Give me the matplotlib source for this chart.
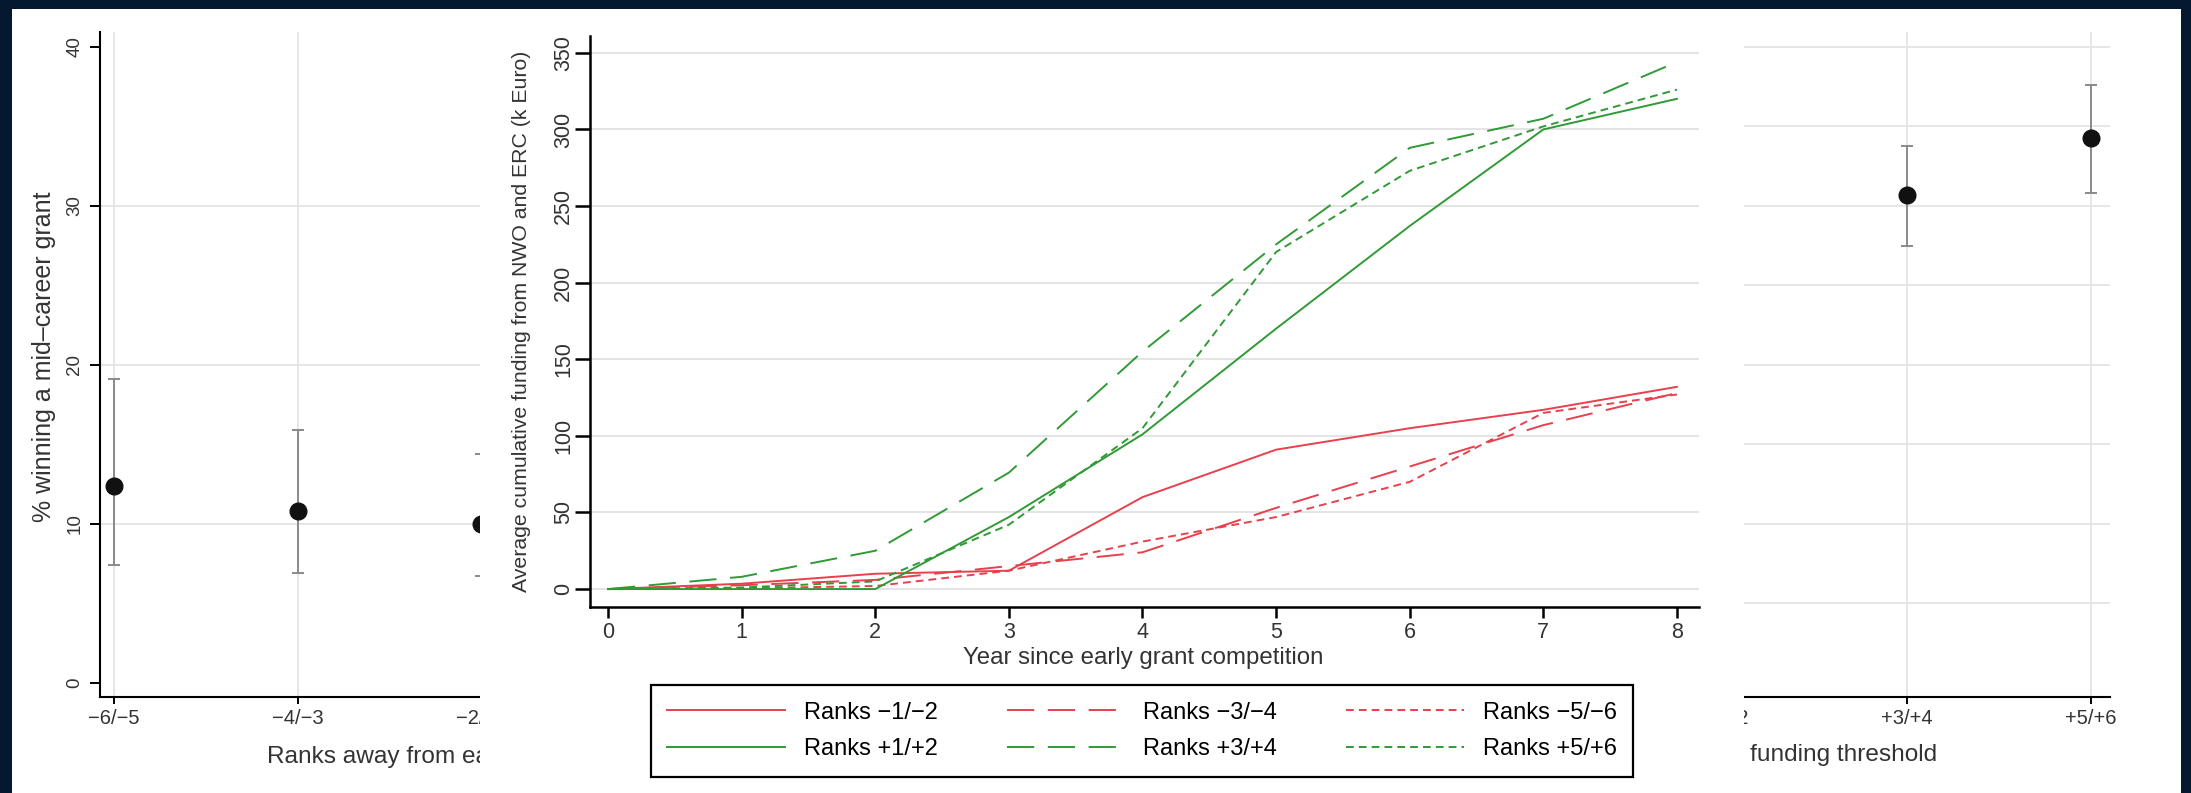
import matplotlib
matplotlib.use('Agg')
import matplotlib.pyplot as plt
from matplotlib.patches import Rectangle
from matplotlib.transforms import Bbox

plt.rcParams['font.family'] = ['Liberation Sans', 'DejaVu Sans']

# --- scatter panel (mid-career grant), left and right parts ---
left_cats = ['\u22126/\u22125', '\u22124/\u22123', '\u22122/\u22121']
left_pct = [12.4, 10.8, 10.0]
left_lo = [7.4, 6.9, 6.7]
left_hi = [19.1, 15.9, 14.4]
left_grid = [10, 20, 30]

right_cats = ['+1/+2', '+3/+4', '+5/+6']
right_shown = ['+3/+4', '+5/+6']
right_pct = [30.7, 34.3]
right_lo = [27.5, 30.8]
right_hi = [33.8, 37.6]
right_grid = [5, 10, 15, 20, 25, 30, 35, 40]

# --- inset: cumulative funding by year ---
years = [0, 1, 2, 3, 4, 5, 6, 7, 8]
fund_m12 = [0, 3.5, 10, 12, 60, 91, 105, 117, 132]
fund_m34 = [0, 2.5, 6, 15, 24, 53, 80, 107, 128]
fund_m56 = [0, 0.5, 2, 12, 31, 47, 70, 115, 127]
fund_p12 = [0, 0, 0, 47, 101, 170, 237, 300, 320]
fund_p34 = [0, 8, 25, 76, 155, 225, 288, 307, 344]
fund_p56 = [0, 1, 5, 42, 105, 220, 273, 302, 326]

W, H = 2191, 793
navy = '#04182f'
gridc = '#e4e4e4'
red = '#e8404c'
green = '#2f9a36'
txt = '#333333'


def box(l, t, r, b):
    return [l / W, 1 - b / H, (r - l) / W, (b - t) / H]


fig = plt.figure(figsize=(W / 100, H / 100), dpi=100, facecolor=navy)
fig.add_artist(Rectangle((12 / W, 0), (2181 - 12) / W, 1 - 9 / H, transform=fig.transFigure,
                         facecolor='white', edgecolor='none', zorder=0.5))


def style_scatter(ax):
    ax.set_facecolor('none')
    ax.set_ylim(-0.88, 40.94)
    for s in ['top', 'right']:
        ax.spines[s].set_visible(False)
    ax.spines['left'].set_linewidth(1.5)
    ax.spines['bottom'].set_linewidth(1.5)
    ax.tick_params(axis='x', length=5, width=1.4, pad=4, labelsize=14.5, labelcolor=txt)
    ax.tick_params(axis='y', length=7, width=1.4, pad=5, labelsize=13.5, labelcolor=txt)


# left part
axl = fig.add_axes(box(100, 32, 700, 697), zorder=1)
style_scatter(axl)
xl = list(range(len(left_cats)))
for g in left_grid:
    axl.axhline(g, color=gridc, lw=1.3, zorder=0)
for x in xl:
    axl.axvline(x, color=gridc, lw=1.3, zorder=0)
axl.errorbar(xl, left_pct,
             yerr=[[p - l for p, l in zip(left_pct, left_lo)], [h - p for p, h in zip(left_pct, left_hi)]],
             fmt='o', color='#111111', ecolor='#8a8a8a', elinewidth=1.4, capsize=4.5, capthick=1.4,
             markersize=12, zorder=3)
axl.set_xlim(-0.076, 3.19)
axl.set_xticks(xl)
axl.set_xticklabels(left_cats)
axl.set_yticks([0, 10, 20, 30, 40])
for lab in axl.get_yticklabels():
    lab.set_rotation(90)
    lab.set_va('center')
axl.text(-0.093, 0.511, '% winning a mid\u2013career grant', transform=axl.transAxes,
         rotation=90, ha='center', va='center', fontsize=18, color=txt)

# right part
axr = fig.add_axes(box(1600, 32, 2110, 697), zorder=1)
style_scatter(axr)
axr.spines['left'].set_visible(False)
xr = [right_cats.index(c) for c in right_shown]
axr.set_yticks(right_grid)
axr.tick_params(axis='y', left=False, labelleft=False)
axr.grid(axis='y', color=gridc, lw=1.3)
for x in range(len(right_cats)):
    axr.axvline(x, color=gridc, lw=1.3, zorder=0)
axr.errorbar(xr, right_pct,
             yerr=[[p - l for p, l in zip(right_pct, right_lo)], [h - p for p, h in zip(right_pct, right_hi)]],
             fmt='o', color='#111111', ecolor='#8a8a8a', elinewidth=1.4, capsize=4.5, capthick=1.4,
             markersize=12, zorder=3)
axr.set_xlim(-0.668, 2.103)
axr.set_xticks(range(len(right_cats)))
axr.set_xticklabels(right_cats)

# x label of the scatter, split by the inset (each part clipped at the inset edge)
t1 = fig.text(267 / W, 1 - 757 / H, 'Ranks away from early\u2013career', ha='left', va='center',
              fontsize=17.6, color=txt, zorder=1.5)
t1.set_clip_box(Bbox.from_extents(0, 0, 480, H))
t1.set_clip_on(True)
t2 = fig.text(1937 / W, 1 - 755 / H, 'funding threshold', ha='right', va='center',
              fontsize=17.6, color=txt, zorder=1.5)
t2.set_clip_box(Bbox.from_extents(1744, 0, W, H))
t2.set_clip_on(True)

# white inset covering the middle
fig.add_artist(Rectangle((480 / W, 0), (1744 - 480) / W, 1 - 9 / H, transform=fig.transFigure,
                         facecolor='white', edgecolor='none', zorder=2))

axi = fig.add_axes(box(590, 36, 1699, 607), zorder=3)
axi.set_facecolor('none')
long_dash = (0, (14, 7))
short_dash = (0, (4, 2.6))
h1, = axi.plot(years, fund_m12, color=red, lw=1.4, ls='-', label='Ranks \u22121/\u22122')
h2, = axi.plot(years, fund_m34, color=red, lw=1.4, ls=long_dash, label='Ranks \u22123/\u22124')
h3, = axi.plot(years, fund_m56, color=red, lw=1.4, ls=short_dash, label='Ranks \u22125/\u22126')
h4, = axi.plot(years, fund_p12, color=green, lw=1.4, ls='-', label='Ranks +1/+2')
h5, = axi.plot(years, fund_p34, color=green, lw=1.4, ls=long_dash, label='Ranks +3/+4')
h6, = axi.plot(years, fund_p56, color=green, lw=1.4, ls=short_dash, label='Ranks +5/+6')
axi.set_xlim(-0.135, 8.165)
axi.set_ylim(-11.7, 361)
axi.set_xticks(years)
axi.set_yticks(range(0, 351, 50))
for lab in axi.get_yticklabels():
    lab.set_rotation(90)
    lab.set_va('center')
axi.grid(axis='y', color=gridc, lw=1.4)
axi.set_axisbelow(True)
for s in ['top', 'right']:
    axi.spines[s].set_visible(False)
axi.spines['left'].set_linewidth(1.8)
axi.spines['bottom'].set_linewidth(1.8)
axi.tick_params(axis='x', length=8, width=1.8, pad=3, labelsize=15.5, labelcolor=txt)
axi.tick_params(axis='y', length=10.5, width=1.8, pad=1, labelsize=15.5, labelcolor=txt)
axi.text(-0.062, 0.5, 'Average cumulative funding from NWO and ERC (k Euro)', transform=axi.transAxes,
         rotation=90, ha='center', va='center', fontsize=15.3, color=txt)
axi.text(0.4986, -0.09, 'Year since early grant competition', transform=axi.transAxes,
         ha='center', va='center', fontsize=17.3, color=txt)

handles = [h1, h4, h2, h5, h3, h6]
leg = fig.legend(handles, [h.get_label() for h in handles], ncol=3, loc='center',
                 bbox_to_anchor=(1142 / W, 1 - 731 / H), fontsize=17, frameon=True, fancybox=False,
                 edgecolor='black', framealpha=1, handlelength=5.0, handletextpad=0.8,
                 columnspacing=2.9, borderpad=0.7, labelspacing=0.62)
leg.get_frame().set_linewidth(1.6)
leg.set_zorder(5)

fig.savefig('out.png', dpi=100, facecolor=navy)
